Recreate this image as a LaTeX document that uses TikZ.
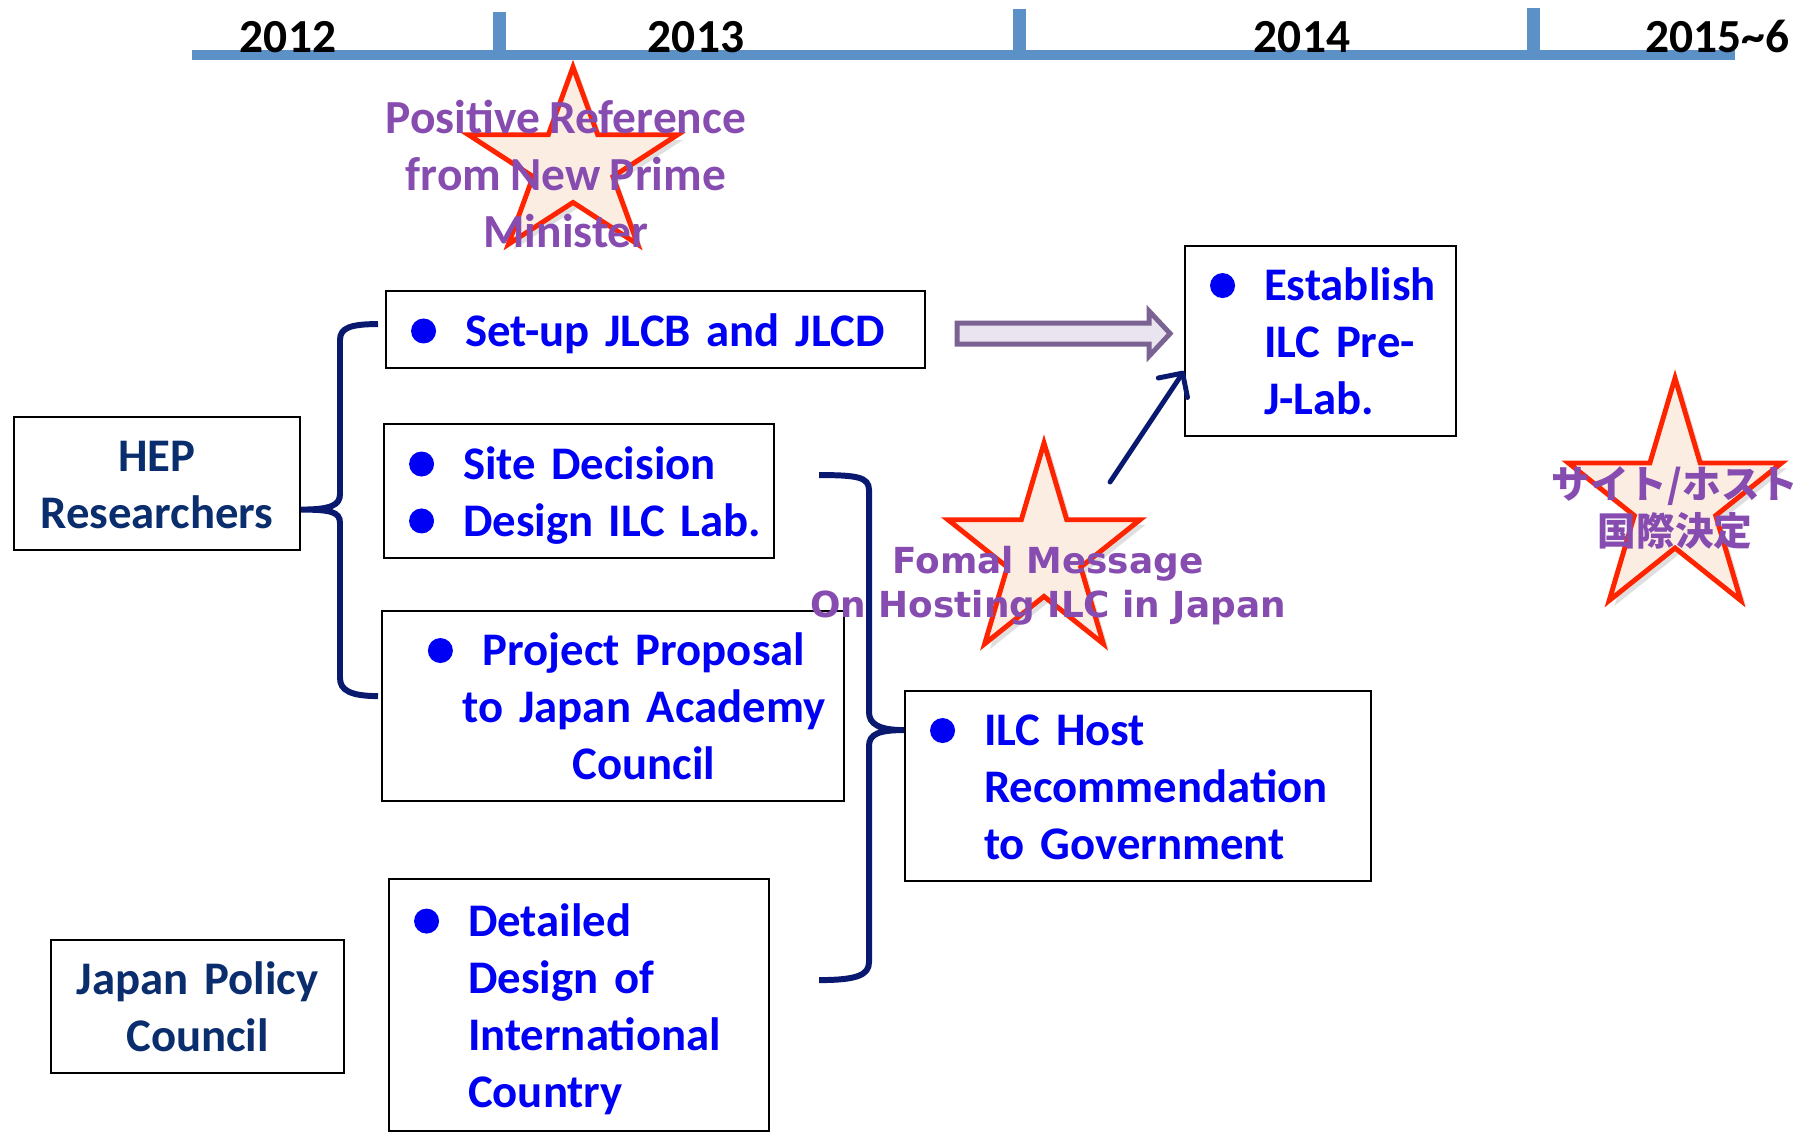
\documentclass[tikz,border=0pt]{standalone}
\usepackage{fontspec}
\usetikzlibrary{arrows.meta, positioning, calc, shadows}

\newfontfamily\carlito{Carlito}[WordSpace=0.85]
\newfontfamily\dejavu{DejaVu Sans}
\newfontfamily\jpfont{Noto Sans CJK JP}

\definecolor{tlblue}{RGB}{91,145,199}
\definecolor{starred}{RGB}{255,36,0}
\definecolor{starfill}{RGB}{252,237,226}
\definecolor{txtpurple}{RGB}{134,76,176}
\definecolor{navytext}{RGB}{10,45,110}
\definecolor{bracenavy}{RGB}{10,25,112}
\definecolor{textblue}{RGB}{0,0,245}
\definecolor{arrowfill}{RGB}{234,228,240}
\definecolor{arrowline}{RGB}{122,99,146}

\newcommand\boxfont{\carlito\bfseries\fontsize{13.3}{16.2}\selectfont}
\newcommand\dotb{\tikz[baseline=-4.3pt]\fill[textblue] (0,0) circle (0.125cm);}
\newcommand\bul{\hspace*{0.25cm}\makebox[0.54cm][l]{\dotb}}
\newcommand\ind{\hspace*{0.79cm}}
% struts so that every box centres its lines the same way
\newcommand\tops{\rule[-3.5pt]{0pt}{16.4pt}}
\newcommand\bots{\rule[-3.5pt]{0pt}{1pt}}

\begin{document}
\begin{tikzpicture}[
    box/.style={draw, line width=0.6pt, inner sep=0pt, anchor=north west, font=\boxfont, text=textblue, align=left},
    who/.style={box, text=navytext, align=center},
    year/.style={font=\carlito\bfseries\fontsize{13.5}{16}\selectfont, inner sep=0pt, anchor=base},
    starline/.style={draw=starred, fill=starfill, line width=1.4pt, drop shadow={opacity=0.25, shadow xshift=1.5pt, shadow yshift=-1.5pt}},
    startext/.style={font=\carlito\bfseries\fontsize{13.5}{16.2}\selectfont, text=txtpurple, align=center, inner sep=0pt},
    brace/.style={draw=bracenavy, line width=1.7pt},
    navyarrow/.style={draw=bracenavy, line width=1.4pt, line cap=round, -{Straight Barb[round, length=5pt, width=10pt]}},
    blockarrow/.style={draw=arrowline, fill=arrowfill, line width=1.4pt},
    pics/bigstar/.style={code={
        \path[starline] (90:1) \foreach \k in {0,...,3}{ -- ({126+72*\k}:0.382) -- ({162+72*\k}:1) } -- (54:0.382) -- cycle;
    }}
]
    \fill[white] (0,0) rectangle (18.11,-11.33);
    \useasboundingbox (0,0) rectangle (18.11,-11.33);

    % time line
    \draw[tlblue, line width=0.1cm] (1.92,-0.55) -- (17.35,-0.55);
    \foreach \x/\t in {4.99/0.12, 10.19/0.09, 15.33/0.08}
        \fill[tlblue] (\x-0.065,-\t) rectangle (\x+0.065,-0.55);
    \node[year] (y12) at (2.88,-0.52) {2012};
    \node[year] (y13) at (6.96,-0.52) {2013};
    \node[year] (y14) at (13.02,-0.52) {2014};
    \node[year, anchor=base east] (y15) at (17.90,-0.52) {2015\textasciitilde 6};

    % stars
    \pic[xscale=1.10, yscale=0.98] at (5.73,-1.65) {bigstar};
    \pic[xscale=1.01, yscale=1.11] at (10.44,-5.54) {bigstar};
    \pic[xscale=1.12, yscale=1.23] at (16.75,-5.01) {bigstar};

    % boxes
    \node[who, text width=2.86cm, minimum height=1.33cm] (hep) at (0.13,-4.16) {\tops HEP\\Researchers\bots};
    \node[who, text width=2.93cm, minimum height=1.33cm] (jpc) at (0.50,-9.39) {\tops Japan Policy\\Council\bots};
    \node[box, text width=5.39cm, minimum height=0.77cm] (setup) at (3.85,-2.90) {\tops\bul Set-up JLCB and JLCD\bots};
    \node[box, text width=3.90cm, minimum height=1.34cm] (site) at (3.83,-4.23) {\tops\bul Site Decision\\\bul Design ILC Lab.\bots};
    \node[box, align=center, text width=4.62cm, minimum height=1.90cm] (proj) at (3.81,-6.10)
        {\tops\hspace*{0.62cm}\llap{\dotb\hspace{0.30cm}}Project Proposal\\\hspace*{0.62cm}to Japan Academy\\\hspace*{0.62cm}Council\bots};
    \node[box, text width=3.80cm, minimum height=2.52cm] (detail) at (3.88,-8.78)
        {\tops\bul Detailed\\\ind Design of\\\ind International\\\ind Country\bots};
    \node[box, text width=4.66cm, minimum height=1.90cm] (ilc) at (9.04,-6.90)
        {\tops\bul ILC Host\\\ind Recommendation\\\ind to Government\bots};
    \node[box, text width=2.71cm, minimum height=1.90cm] (estab) at (11.84,-2.45)
        {\tops\bul Establish\\\ind ILC Pre-\\\ind J-Lab.\bots};

    % braces
    \coordinate (lbtop) at ($(setup.west)+(-0.07,0.055)$);
    \coordinate (lbbot) at ($(proj.west)+(-0.03,0.10)$);
    \coordinate (lbtip) at ($(hep.east)+(0,-0.26)$);
    \draw[brace] (lbtop) .. controls +(-0.28,0) and +(0,0.12) .. (3.40,-3.40) -- (3.40,-4.94)
        .. controls +(0,-0.11) and +(0.3,0) .. (lbtip)
        .. controls +(0.3,0) and +(0,0.11) .. (3.40,-5.23) -- (3.40,-6.78)
        .. controls +(0,-0.12) and +(-0.28,0) .. (lbbot);

    \coordinate (rbtop) at ($(site.east)+(0.44,0.16)$);
    \coordinate (rbbot) at ($(detail.east)+(0.49,0.25)$);
    \coordinate (rbtip) at ($(ilc.west)+(0,0.56)$);
    \draw[brace] (rbtop) .. controls +(0.38,0) and +(0,0.13) .. (8.69,-4.90) -- (8.69,-7.12)
        .. controls +(0,-0.12) and +(-0.25,0) .. (rbtip)
        .. controls +(-0.25,0) and +(0,0.12) .. (8.69,-7.46) -- (8.69,-9.62)
        .. controls +(0,-0.13) and +(0.38,0) .. (rbbot);

    % arrows
    \coordinate (ba) at ($(setup.east)+(0.31,-0.04)$);
    \draw[blockarrow] ($(ba)+(0,0.105)$) -- ++(1.92,0) -- ++(0,0.12) -- ++(0.21,-0.225)
        -- ++(-0.21,-0.225) -- ++(0,0.12) -- ++(-1.92,0) -- cycle;
    \coordinate (fmstart) at (11.10,-4.82);
    \draw[navyarrow] (fmstart) -- ($(estab.west)+(0,-0.30)$);

    % star texts
    \node[startext] (pm) at (5.66,-1.74) {Positive Reference\\from New Prime\\Minister};
    \node[startext, font=\dejavu\bfseries\fontsize{10.2}{12.6}\selectfont] (fm) at (10.48,-5.86)
        {Fomal Message\\On Hosting ILC in Japan};
    \node[startext, font=\jpfont\bfseries\fontsize{11}{13.2}\selectfont] (kettei) at (16.75,-5.08)
        {サイト/ホスト\\国際決定};
\end{tikzpicture}
\end{document}
